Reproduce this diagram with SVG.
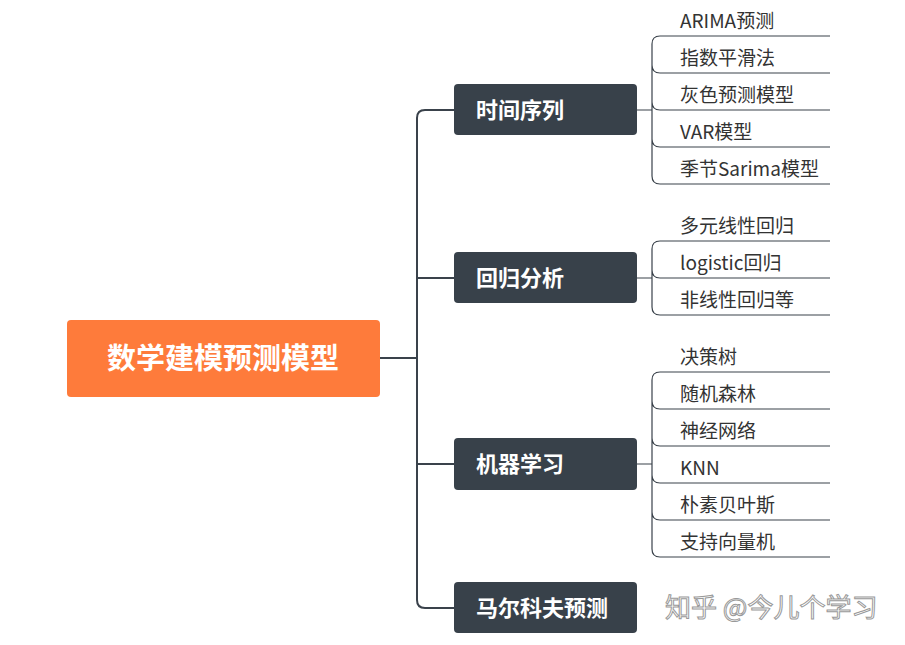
<svg xmlns="http://www.w3.org/2000/svg" width="905" height="645" viewBox="0 0 905 645">
<style>
.c{fill:none;stroke:#3a424b;stroke-width:2}
.l{fill:none;stroke:#3a424b;stroke-width:1.2}
.b{fill:#38414a}
.bt{font-family:"Noto Sans CJK SC",sans-serif;font-size:22px;font-weight:bold;fill:#fff}
.t{font-family:"Noto Sans CJK SC",sans-serif;font-size:19px;fill:#333}
</style>
<rect width="905" height="645" fill="#fff"/>
<g id="connectors">
<path class="c" d="M380 358H417M454 110H425Q417 110 417 118V600Q417 608 425 608H454M417 278H454M417 464H454"/>
<path class="l" d="M637 110H652M830 36H660Q652 36 652 44V176Q652 184 660 184H830M652 65Q652 73 660 73H830M652 102Q652 110 660 110H830M652 139Q652 147 660 147H830"/>
<path class="l" d="M637 278H652M830 241H660Q652 241 652 249V307Q652 315 660 315H830M652 270Q652 278 660 278H830"/>
<path class="l" d="M637 464H652M830 372H660Q652 372 652 380V549Q652 557 660 557H830M652 401Q652 409 660 409H830M652 438Q652 446 660 446H830M652 475Q652 483 660 483H830M652 512Q652 520 660 520H830"/>
</g>
<g id="root"><rect x="67" y="320" width="313" height="77" rx="4" fill="#fe7b3b"/><text x="223" y="369" text-anchor="middle" font-family="Noto Sans CJK SC,sans-serif" font-size="29" font-weight="bold" fill="#fff">数学建模预测模型</text></g>
<g id="n1"><rect class="b" x="454" y="84" width="183" height="51" rx="4"/><text class="bt" x="476" y="118">时间序列</text></g>
<g id="n2"><rect class="b" x="454" y="252" width="183" height="51" rx="4"/><text class="bt" x="476" y="286">回归分析</text></g>
<g id="n3"><rect class="b" x="454" y="438" width="183" height="52" rx="4"/><text class="bt" x="476" y="472">机器学习</text></g>
<g id="n4"><rect class="b" x="454" y="582" width="183" height="51" rx="4"/><text class="bt" x="476" y="616">马尔科夫预测</text></g>
<g id="leaves">
<text class="t" x="680" y="28">ARIMA预测</text>
<text class="t" x="680" y="65">指数平滑法</text>
<text class="t" x="680" y="102">灰色预测模型</text>
<text class="t" x="680" y="139">VAR模型</text>
<text class="t" x="680" y="176">季节Sarima模型</text>
<text class="t" x="680" y="233">多元线性回归</text>
<text class="t" x="680" y="270">logistic回归</text>
<text class="t" x="680" y="307">非线性回归等</text>
<text class="t" x="680" y="364">决策树</text>
<text class="t" x="680" y="401">随机森林</text>
<text class="t" x="680" y="438">神经网络</text>
<text class="t" x="680" y="475">KNN</text>
<text class="t" x="680" y="512">朴素贝叶斯</text>
<text class="t" x="680" y="549">支持向量机</text>
</g>
<text x="665" y="617" font-family="Noto Sans CJK SC,sans-serif" font-size="26" fill="#fff" stroke="#999" stroke-width="1">知乎 @今儿个学习</text>
</svg>
